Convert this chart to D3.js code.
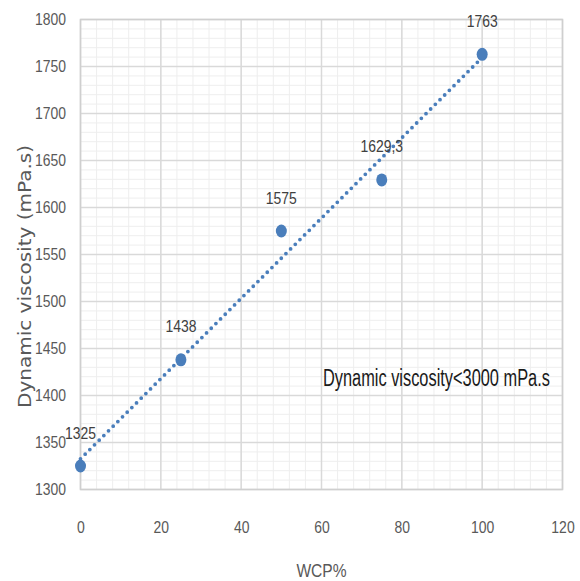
<!DOCTYPE html>
<html><head><meta charset="utf-8">
<script src="https://cdn.jsdelivr.net/npm/d3@7"></script>
<style>body{margin:0;background:#fff}svg{display:block}</style>
</head><body>
<svg id="c" width="580" height="581"></svg>
<script>
const wcp = [0, 25, 50, 75, 100];
const viscosity = [1325, 1438, 1575, 1629.3, 1763];
const pointLabels = ["1325", "1438", "1575", "1629,3", "1763"];
const xTicks = [0, 20, 40, 60, 80, 100, 120];
const yTicks = [1300, 1350, 1400, 1450, 1500, 1550, 1600, 1650, 1700, 1750, 1800];
const xMinor = d3.range(0, 121, 4);
const yMinor = d3.range(1300, 1801, 10);
const annotation = "Dynamic viscosity<3000 mPa.s";

const svg = d3.select("#c");
const L = 80.5, R = 562.5, T = 19.5, B = 489.5;
const x = d3.scaleLinear().domain([0, 120]).range([L, R]);
const y = d3.scaleLinear().domain([1300, 1800]).range([B, T]);
const sans = "'Liberation Sans',Arial,sans-serif";

function condense(sel, k) {
  sel.each(function () {
    const w = this.getComputedTextLength();
    this.setAttribute("textLength", (w * k).toFixed(1));
    this.setAttribute("lengthAdjust", "spacingAndGlyphs");
  });
}

// minor grid
svg.append("g").selectAll("line").data(xMinor).join("line")
  .attr("x1", d => x(d)).attr("x2", d => x(d)).attr("y1", T).attr("y2", B)
  .attr("stroke", "#eeeeee").attr("stroke-width", 1);
svg.append("g").selectAll("line").data(yMinor).join("line")
  .attr("y1", d => y(d)).attr("y2", d => y(d)).attr("x1", L).attr("x2", R)
  .attr("stroke", "#eeeeee").attr("stroke-width", 1);
// major grid
svg.append("g").selectAll("line").data(xTicks).join("line")
  .attr("x1", d => x(d)).attr("x2", d => x(d)).attr("y1", T).attr("y2", B)
  .attr("stroke", "#d9d9d9").attr("stroke-width", 1.5);
svg.append("g").selectAll("line").data(yTicks).join("line")
  .attr("y1", d => y(d)).attr("y2", d => y(d)).attr("x1", L).attr("x2", R)
  .attr("stroke", "#d9d9d9").attr("stroke-width", 1.5);
// plot border
svg.append("rect").attr("x", L).attr("y", T).attr("width", R - L).attr("height", B - T)
  .attr("fill", "none").attr("stroke", "#cfcfcf").attr("stroke-width", 1.5);

// axes (labels only)
const xAxis = svg.append("g").attr("transform", `translate(0,${B})`)
  .call(d3.axisBottom(x).tickValues(xTicks).tickFormat(d3.format("d")).tickSize(0).tickPadding(31));
const yAxis = svg.append("g").attr("transform", `translate(${L},0)`)
  .call(d3.axisLeft(y).tickValues(yTicks).tickFormat(d3.format("d")).tickSize(0).tickPadding(14.5));
[xAxis, yAxis].forEach(a => {
  a.select(".domain").remove();
  a.selectAll("text").attr("font-family", sans).attr("font-size", 17).attr("fill", "#595959");
  condense(a.selectAll("text"), 0.82);
});

// trendline (linear regression of the data)
const mx = d3.mean(wcp), my = d3.mean(viscosity);
const slope = d3.sum(wcp, (d, i) => (d - mx) * (viscosity[i] - my)) / d3.sum(wcp, d => (d - mx) ** 2);
const icpt = my - slope * mx;
svg.append("line")
  .attr("x1", x(0)).attr("y1", y(icpt)).attr("x2", x(100)).attr("y2", y(icpt + slope * 100))
  .attr("stroke", "#4a7ebb").attr("stroke-width", 3.8).attr("stroke-linecap", "round")
  .attr("stroke-dasharray", "0,6.6");

// points
const data = wcp.map((d, i) => ({x: d, y: viscosity[i], label: pointLabels[i]}));
svg.append("g").selectAll("ellipse").data(data).join("ellipse")
  .attr("cx", d => x(d.x)).attr("cy", d => y(d.y)).attr("rx", 5.5).attr("ry", 6.5)
  .attr("fill", "#4a7ebb");
const lbl = svg.append("g").selectAll("text").data(data).join("text")
  .attr("x", d => x(d.x)).attr("y", d => y(d.y) - 27.5)
  .attr("text-anchor", "middle")
  .attr("font-family", sans).attr("font-size", 17).attr("fill", "#404040")
  .text(d => d.label);
condense(lbl, 0.82);

// annotation (horizontally condensed via transform)
const annG = svg.append("g");
const ann = annG.append("text").attr("x", 0).attr("y", 0)
  .attr("font-family", sans).attr("font-size", 23).attr("fill", "#1a1a1a")
  .text(annotation);
const annW = ann.node().getComputedTextLength();
annG.attr("transform", `translate(323,386) scale(${(227 / annW).toFixed(4)},1)`);

// axis titles
const xt = svg.append("text").attr("x", x(60)).attr("y", 577).attr("text-anchor", "middle")
  .attr("font-family", sans).attr("font-size", 19).attr("fill", "#595959").text("WCP%");
condense(xt, 0.82);
svg.append("text").attr("transform", `translate(31,276.5) rotate(-90)`)
  .attr("text-anchor", "middle")
  .attr("font-family", "'DejaVu Sans',Verdana,sans-serif").attr("font-size", 17.5).attr("fill", "#595959")
  .attr("textLength", 263).attr("lengthAdjust", "spacingAndGlyphs")
  .text("Dynamic viscosity (mPa.s)");
</script>
</body></html>
